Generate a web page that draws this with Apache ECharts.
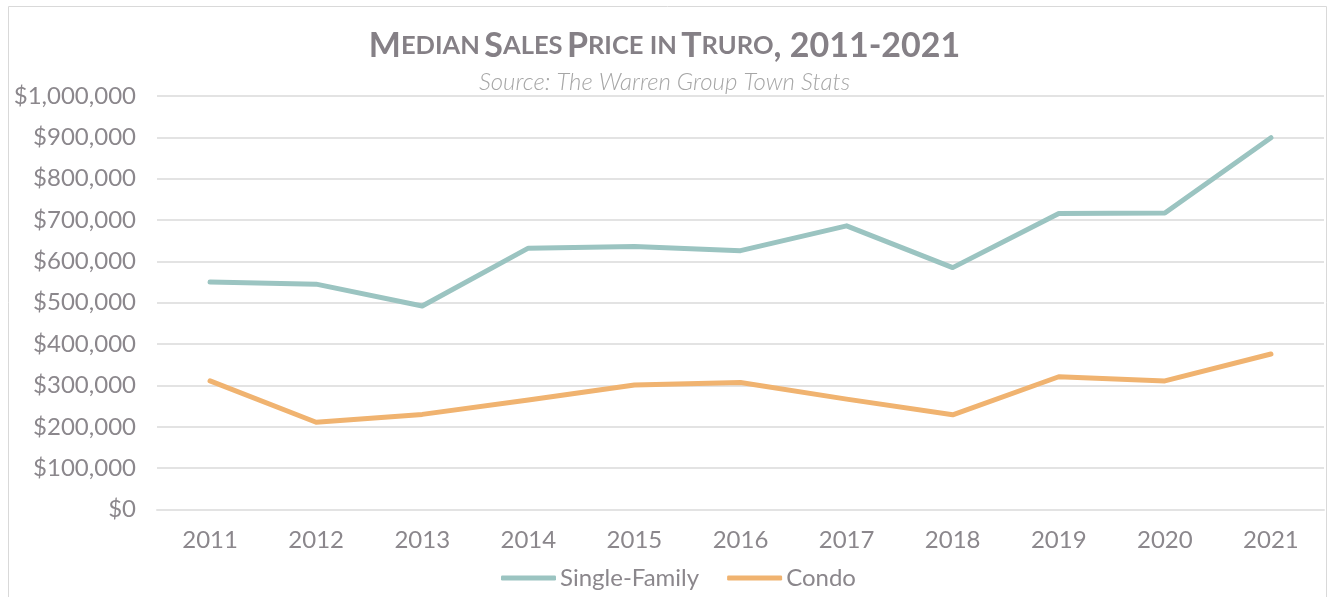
<!DOCTYPE html>
<html>
<head>
<meta charset="utf-8">
<script src="https://cdn.jsdelivr.net/npm/echarts@6/dist/echarts.min.js"></script>
<style>
  html, body { margin: 0; padding: 0; background: #fff; }
  #main { width: 1329px; height: 597px; }
</style>
</head>
<body>
<div id="main"></div>
<script>
// chart data
var years = ["2011", "2012", "2013", "2014", "2015", "2016", "2017", "2018", "2019", "2020", "2021"];
var singleFamily = [550000, 545000, 492000, 632000, 636000, 626000, 686000, 585000, 716000, 717000, 899000];
var condo = [311000, 211000, 230000, 265000, 301000, 307000, 267000, 229000, 321000, 311000, 376000];
var yTicks = [0, 100000, 200000, 300000, 400000, 500000, 600000, 700000, 800000, 900000, 1000000];

var grey = "#8b878c";
var font = "Lato, 'Open Sans', sans-serif";

var mychart = echarts.init(document.getElementById("main"));
mychart.setOption({
  animation: false,
  textStyle: { fontFamily: font },
  title: {
    left: "center",
    top: 24,
    // small caps faked with rich text
    text: "{b|M}{s|EDIAN} {b|S}{s|ALES} {b|P}{s|RICE IN} {b|T}{s|RURO}{b|, 2011-2021}",
    textStyle: {
      rich: {
        b: { fontFamily: font, fontWeight: "bold", fontSize: 34, color: "#858086" },
        s: { fontFamily: font, fontWeight: "bold", fontSize: 25.5, color: "#858086" }
      }
    },
    subtext: "Source: The Warren Group Town Stats",
    itemGap: 7,
    subtextStyle: {
      fontFamily: font,
      fontStyle: "italic",
      fontWeight: 300,
      fontSize: 24,
      color: "#a6a6a6"
    }
  },
  graphic: [
    {
      type: "rect",
      shape: { x: 8.5, y: 6.5, width: 1318, height: 620 },
      style: { fill: null, stroke: "#d9d9d9", lineWidth: 1 },
      silent: true
    }
  ],
  legend: {
    bottom: 2,
    left: 496,
    icon: "roundRect",
    itemWidth: 55,
    itemHeight: 5,
    itemGap: 28,
    textStyle: { fontFamily: font, fontSize: 24, color: grey, padding: [0, 0, 0, -1] },
    data: ["Single-Family", "Condo"]
  },
  grid: {
    left: 157,
    right: 5,
    top: 96,
    bottom: 87.5,
    containLabel: false
  },
  xAxis: {
    type: "category",
    data: years,
    boundaryGap: true,
    axisLine: { show: true, lineStyle: { color: "#e3e3e3", width: 2 } },
    axisTick: { show: false },
    axisLabel: { color: grey, fontSize: 24, fontFamily: font, margin: 19 }
  },
  yAxis: {
    type: "value",
    min: yTicks[0],
    max: yTicks[yTicks.length - 1],
    interval: 100000,
    axisLine: { show: false },
    axisTick: { show: false },
    splitLine: { lineStyle: { color: "#e3e3e3", width: 2 } },
    axisLabel: {
      color: grey,
      fontSize: 24,
      fontFamily: font,
      margin: 21,
      formatter: function (v) {
        return "$" + v.toLocaleString("en-US");
      }
    }
  },
  series: [
    {
      name: "Single-Family",
      type: "line",
      data: singleFamily,
      showSymbol: false,
      lineStyle: { color: "#9bc4c1", width: 5, cap: "round", join: "round" },
      itemStyle: { color: "#9bc4c1" }
    },
    {
      name: "Condo",
      type: "line",
      data: condo,
      showSymbol: false,
      lineStyle: { color: "#f0b370", width: 5, cap: "round", join: "round" },
      itemStyle: { color: "#f0b370" }
    }
  ]
});
</script>
</body>
</html>
